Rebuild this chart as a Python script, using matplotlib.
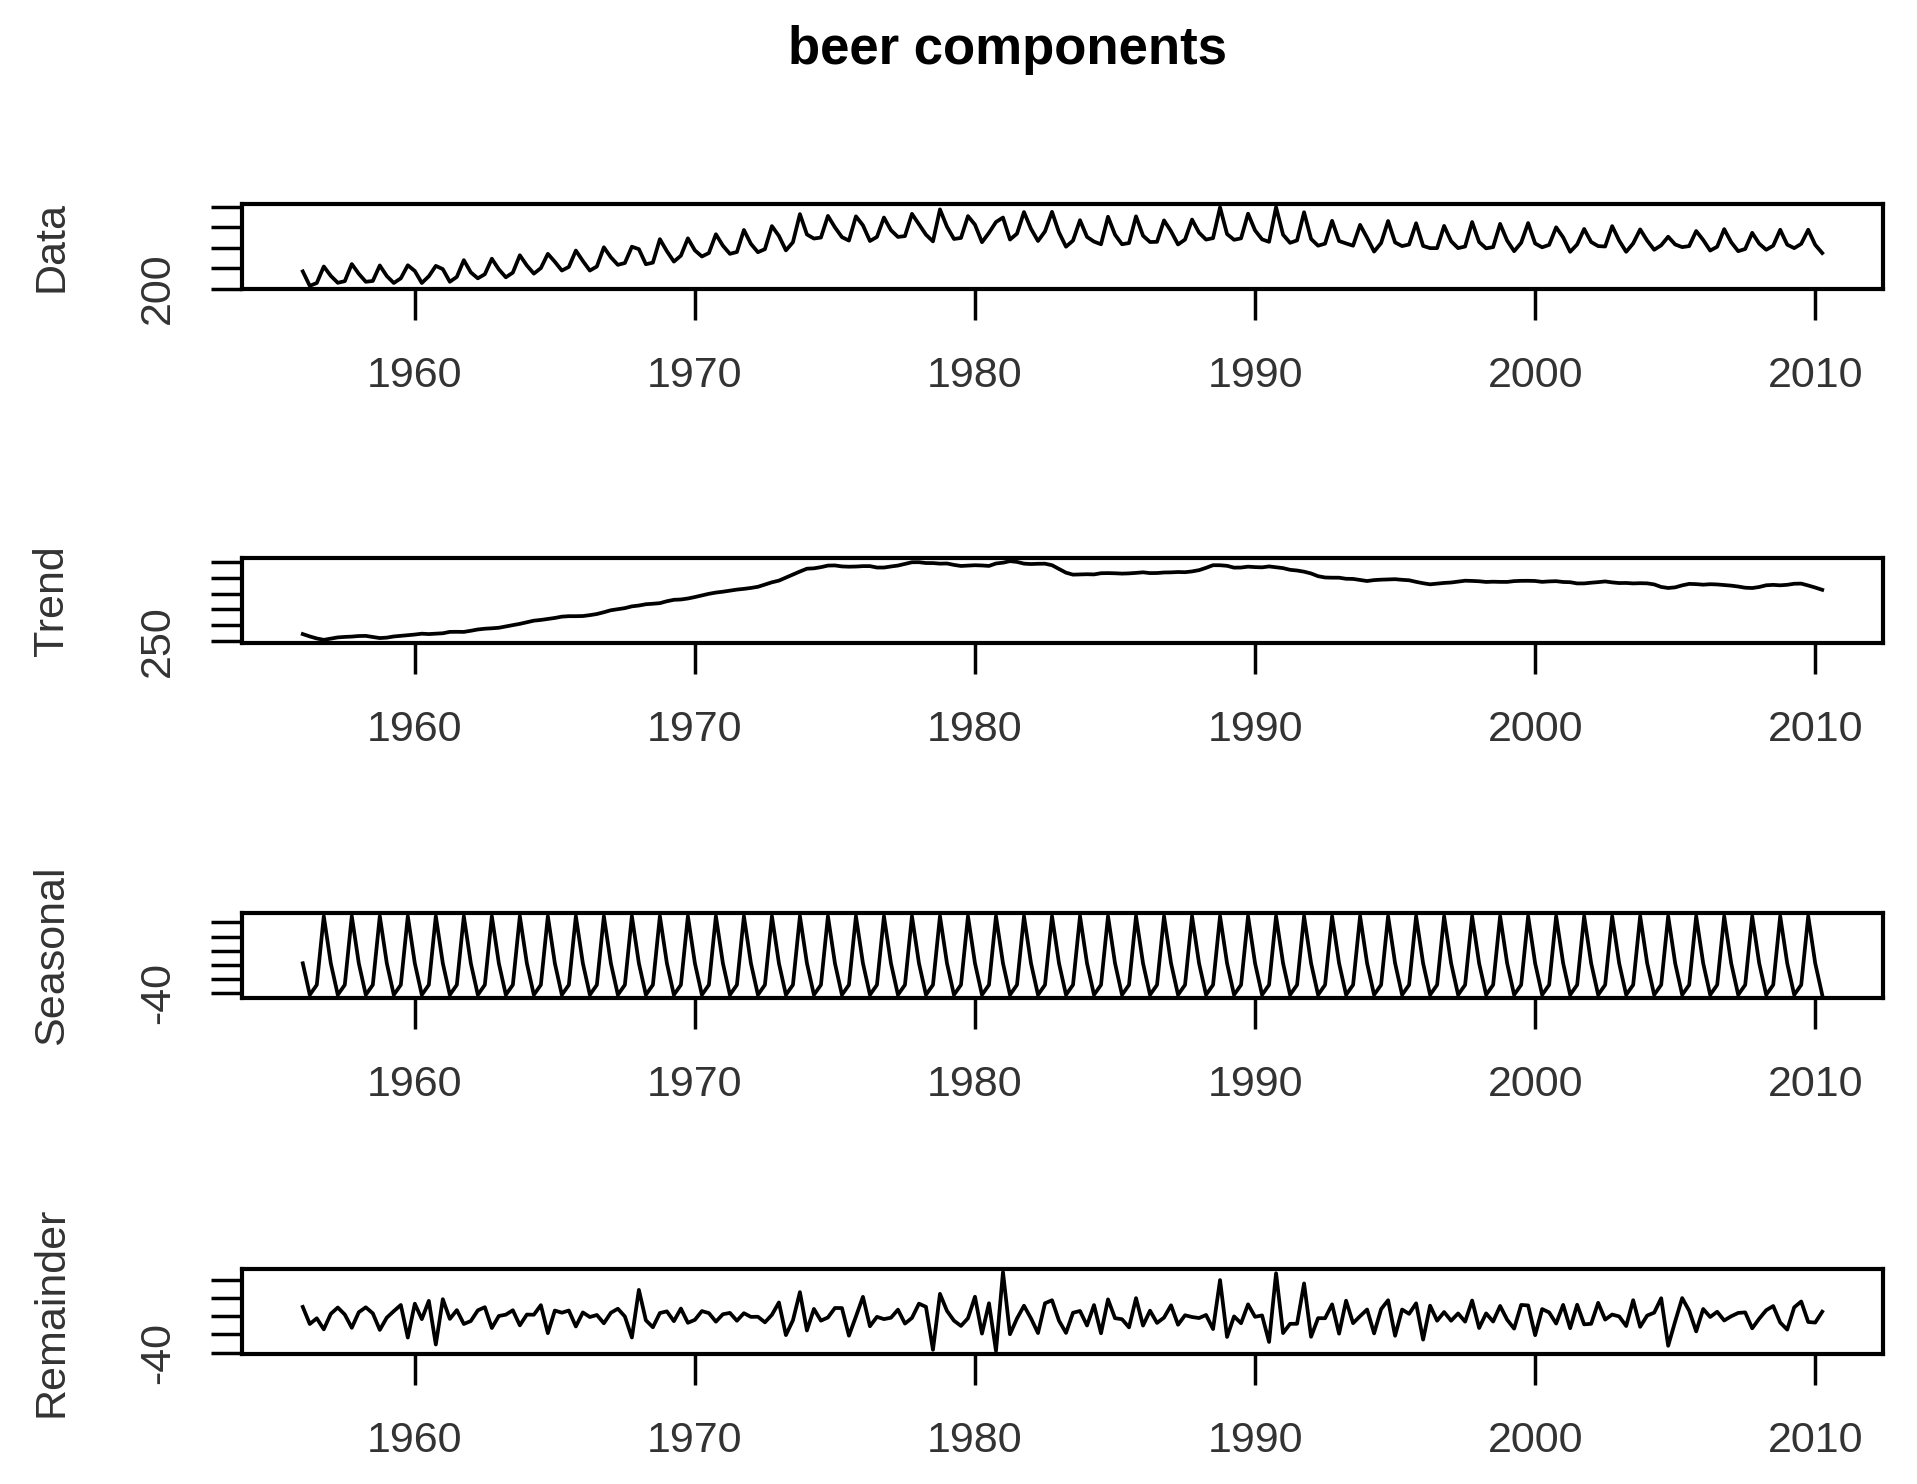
import numpy as np
import matplotlib
matplotlib.use("Agg")
import matplotlib.pyplot as plt

# ---------------- DATA ----------------
# quarterly beer production, 1956 Q1 .. 2010 Q2
beer = [
    284, 213, 227, 308, 262, 228, 236, 320, 272, 233, 237, 313,
    261, 227, 250, 314, 286, 227, 260, 311, 295, 233, 257, 339,
    279, 250, 270, 346, 294, 255, 278, 363, 313, 273, 300, 370,
    331, 288, 306, 386, 335, 288, 308, 402, 353, 316, 325, 405,
    393, 319, 327, 442, 383, 332, 361, 446, 387, 357, 374, 466,
    410, 370, 379, 487, 419, 378, 393, 506, 458, 387, 427, 565,
    465, 445, 450, 556, 500, 452, 435, 554, 510, 433, 453, 548,
    486, 453, 457, 566, 515, 464, 431, 588, 503, 443, 448, 555,
    513, 427, 473, 526, 548, 440, 469, 575, 493, 433, 480, 576,
    475, 405, 435, 535, 453, 430, 417, 552, 464, 417, 423, 554,
    459, 428, 429, 534, 481, 416, 440, 538, 474, 440, 447, 598,
    467, 439, 446, 567, 485, 441, 429, 599, 464, 424, 436, 574,
    443, 410, 420, 532, 433, 421, 410, 512, 449, 381, 423, 531,
    426, 408, 416, 520, 409, 398, 398, 507, 432, 398, 406, 526,
    428, 397, 403, 517, 435, 383, 424, 521, 421, 402, 414, 500,
    451, 380, 416, 492, 428, 408, 406, 506, 435, 380, 421, 490,
    435, 390, 412, 454, 416, 403, 408, 482, 438, 386, 405, 491,
    427, 383, 394, 473, 420, 390, 410, 488, 415, 398, 419, 488,
    414, 374,
]
start_year = 1956
period = 4

panel_names = ["Data", "Trend", "Seasonal", "Remainder"]
yticks = [
    [200, 300, 400, 500, 600],
    [250, 300, 350, 400, 450, 500],
    [-40, -20, 0, 20, 40, 60],
    [-40, -20, 0, 20, 40],
]
xticks = [1960, 1970, 1980, 1990, 2000, 2010]
# --------------------------------------


def loess(y, q, deg=1):
    # local weighted fit with tricube weights (as in stl's inner smoother)
    n = len(y)
    x = np.arange(n, dtype=float)
    out = np.empty(n)
    for i in range(n):
        lo = max(0, min(i - q // 2, n - q))
        hi = lo + q
        h = max(i - lo, hi - 1 - i)
        xx = x[lo:hi]
        yy = y[lo:hi]
        r = np.abs(xx - i)
        w = np.where(r <= 0.999 * h, (1 - (r / h) ** 3) ** 3, 0.0)
        w[r <= 0.001 * h] = 1.0
        w = w / w.sum()
        if deg == 1:
            a = (w * xx).sum()
            b = (w * (xx - a) ** 2).sum()
            if np.sqrt(b) > 0.001 * (n - 1):
                w = w * ((i - a) / b * (xx - a) + 1)
        out[i] = (w * yy).sum()
    return out


y = np.array(beer, dtype=float)
n = len(y)
t = start_year + np.arange(n) / period
q = np.arange(n) % period

# -------- STL, periodic seasonal --------
trend = np.zeros(n)
for _ in range(2):
    detr = y - trend
    qmeans = np.array([detr[q == k].mean() for k in range(period)])
    seas = (qmeans - qmeans.mean())[q]
    trend = loess(y - seas, 7, 1)
remainder = y - trend - seas

series = [y, trend, seas, remainder]

# -------- Plot --------
W, H = 1917, 1484
fig = plt.figure(figsize=(W / 100, H / 100), dpi=100)
plt.rcParams["font.family"] = ["Liberation Sans", "DejaVu Sans"]

left, right = 242, 1883
tops = [204, 558, 913, 1269]
ph = 85

for k, (name, s) in enumerate(zip(panel_names, series)):
    ax = fig.add_axes([left / W, 1 - (tops[k] + ph) / H, (right - left) / W, ph / H])
    ax.plot(t, s, color="black", lw=2.7)
    ax.margins(x=0.04, y=0.04)
    ax.set_xticks(xticks, [str(v) for v in xticks])
    labels = [str(yticks[k][0])] + [""] * (len(yticks[k]) - 1)
    ax.set_yticks(yticks[k], labels)
    ax.tick_params(axis="both", direction="out", length=22, width=2.5,
                   labelsize=31, colors="black")
    ax.tick_params(axis="x", pad=26, labelcolor="#333333")
    ax.tick_params(axis="y", pad=24, labelrotation=90, labelcolor="#333333")
    for lbl in ax.get_yticklabels():
        lbl.set_va("center")
    for sp in ax.spines.values():
        sp.set_linewidth(3.0)
        sp.set_color("black")
    fig.text(52 / W, 1 - (tops[k] + ph / 2) / H, name, rotation=90,
             ha="center", va="center", fontsize=31, color="#333333")

fig.text(1007 / W, 1 - 50 / H, "beer components", ha="center", va="center",
         fontsize=38, fontweight="bold")

fig.savefig("out.png", dpi=100, facecolor="white")
